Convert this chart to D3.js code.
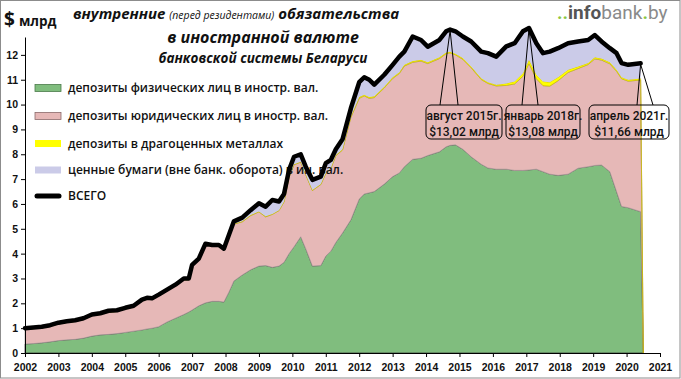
<!DOCTYPE html>
<html><head><meta charset="utf-8">
<script src="https://cdn.jsdelivr.net/npm/d3@7"></script>
<style>
html,body{margin:0;padding:0;background:#fff;}
svg{display:block;}
</style></head><body>
<script>
// position on the chart's time axis (fraction of a year, as plotted)
const period = [2002.00,2002.25,2002.50,2002.75,2003.00,2003.25,2003.50,2003.75,2004.00,2004.25,2004.50,2004.75,
 2005.00,2005.25,2005.50,2005.65,2005.80,2006.00,2006.25,2006.50,2006.75,2006.90,2007.00,2007.20,2007.40,2007.60,
 2007.80,2007.95,2008.10,2008.25,2008.50,2008.75,2009.00,2009.20,2009.40,2009.60,2009.75,2009.90,2010.05,2010.25,
 2010.40,2010.60,2010.85,2011.00,2011.15,2011.30,2011.50,2011.75,2012.00,2012.15,2012.30,2012.45,2012.75,2013.00,
 2013.20,2013.35,2013.60,2013.85,2014.05,2014.40,2014.60,2014.72,2014.88,2015.10,2015.35,2015.65,2015.85,2016.10,
 2016.40,2016.65,2016.90,2017.08,2017.30,2017.50,2017.70,2017.95,2018.25,2018.55,2018.85,2019.05,2019.25,2019.50,
 2019.70,2019.85,2020.05,2020.42,2020.50];
// депозиты физических лиц
const physical = [0.36,0.38,0.41,0.45,0.50,0.53,0.55,0.60,0.68,0.73,0.75,0.78,
 0.83,0.88,0.93,0.97,1.00,1.06,1.25,1.40,1.55,1.65,1.73,1.90,2.02,2.08,
 2.08,2.05,2.45,2.90,3.14,3.35,3.50,3.52,3.45,3.50,3.65,4.00,4.28,4.68,
 4.20,3.50,3.52,3.90,4.10,4.45,4.83,5.36,6.20,6.40,6.45,6.50,6.80,7.10,
 7.25,7.50,7.80,7.84,7.95,8.10,8.30,8.36,8.38,8.20,7.90,7.60,7.45,7.40,
 7.40,7.35,7.35,7.37,7.40,7.30,7.20,7.15,7.20,7.44,7.50,7.55,7.57,7.30,
 6.50,5.90,5.85,5.69,0];
// депозиты юридических лиц
const legal = [0.59,0.60,0.60,0.62,0.67,0.70,0.72,0.75,0.82,0.82,0.90,0.89,
 0.94,0.97,1.17,1.20,1.15,1.24,1.25,1.30,1.40,1.30,1.77,1.85,2.33,2.22,
 2.22,2.10,2.25,2.29,2.14,2.18,2.18,1.96,2.13,2.23,2.43,3.08,3.30,3.00,
 2.98,3.04,3.26,3.32,3.32,3.49,3.34,4.12,4.05,3.95,3.80,3.78,3.87,3.95,
 4.00,4.05,3.90,3.91,3.70,3.75,3.75,3.72,3.62,3.62,3.58,3.41,3.40,3.35,
 3.37,3.48,3.79,4.28,3.64,3.46,3.54,3.81,4.09,4.01,4.11,4.29,4.22,4.34,
 4.84,5.14,5.09,5.30,0];
// депозиты в драгоценных металлах
const metals = [0,0,0,0,0,0,0,0,0,0,0,0,
 0,0,0,0,0,0,0,0,0,0,0,0,0,0,
 0,0,0,0.01,0.02,0.02,0.02,0.02,0.02,0.02,0.02,0.02,0.02,0.02,
 0.02,0.02,0.02,0.03,0.03,0.03,0.03,0.04,0.05,0.05,0.05,0.05,0.05,0.05,
 0.05,0.05,0.05,0.05,0.05,0.05,0.05,0.05,0.05,0.05,0.05,0.05,0.05,0.05,
 0.08,0.10,0.12,0.15,0.16,0.17,0.16,0.14,0.11,0.08,0.06,0.06,0.06,0.06,
 0.06,0.06,0.06,0.06,0];
// ценные бумаги (вне банк. оборота)
const securities = [0.05,0.05,0.05,0.05,0.05,0.05,0.05,0.05,0.05,0.05,0.05,0.05,
 0.05,0.05,0.05,0.05,0.05,0.05,0.05,0.05,0.05,0.05,0.05,0.05,0.05,0.05,
 0.05,0.05,0.05,0.10,0.15,0.20,0.33,0.39,0.56,0.35,0.30,0.27,0.30,0.30,
 0.30,0.41,0.30,0.39,0.32,0.23,0.40,0.33,0.60,0.70,0.70,0.47,0.48,0.50,
 0.63,0.53,0.99,0.80,0.63,0.70,0.85,0.89,0.90,0.87,1.01,1.07,1.17,1.13,
 1.49,1.54,1.69,1.28,1.27,1.14,1.23,1.17,1.07,1.01,0.93,0.90,0.69,0.57,
 0.67,0.57,0.60,0.61,0];

const yearTicks = d3.range(2002, 2022);
const valueTicks = d3.range(0, 13);

const seriesKeys = ["physical","legal","metals","securities"];
const seriesNames = ["депозиты физических лиц в иностр. вал.",
                     "депозиты юридических лиц в иностр. вал.",
                     "депозиты в драгоценных металлах",
                     "ценные бумаги (вне банк. оборота)  в ин. вал."];
const totalName = "ВСЕГО";
const fills = {physical:"#80bd7e", legal:"#e6b8b7", metals:"#ffff00", securities:"#cbcbe8"};
const strokes = {physical:"#3c3c3c", legal:"#a89a9a", metals:"#c9b400", securities:"none"};

const annotations = [
  {t:2014.72, lines:["август 2015г.","$13,02 млрд"], box:[426,76], legs:[440,458]},
  {t:2017.08, lines:["январь 2018г.","$13,08 млрд"], box:[506,74], legs:[522,538]},
  {t:2020.42, lines:["апрель  2021г.","$11,66 млрд"], box:[589,80], legs:[637,653]}
];

const table = period.map((t,i)=>({t, physical:physical[i], legal:legal[i], metals:metals[i], securities:securities[i]}));
table.forEach(d=>{ d.total = d.physical + d.legal + d.metals + d.securities; });

const W=681, H=379;
const svg = d3.select("body").append("svg").attr("width",W).attr("height",H)
  .style("font-family","Roboto, 'Liberation Sans', sans-serif");

svg.append("rect").attr("x",0.5).attr("y",0.5).attr("width",W-1.5).attr("height",H-1.5)
  .attr("fill","#fff").attr("stroke","#8c8c8c");

const x = d3.scaleLinear().domain([2002, 2021]).range([25, 660]);
const y = d3.scaleLinear().domain([0, 12.72]).range([353, 37]);

const stack = d3.stack().keys(seriesKeys);
const layers = stack(table);

const area = d3.area().x(d=>x(d.data.t)).y0(d=>y(d[0])).y1(d=>y(d[1]));
svg.append("g").selectAll("path").data(layers).join("path")
  .attr("d", area)
  .attr("fill", d=>fills[d.key])
  .attr("stroke", d=>strokes[d.key])
  .attr("stroke-width", d=>d.key==="physical"?0.8:0.7)
  .attr("stroke-linejoin","round");

// legend
const legendY = [88,116,143.5,170,196];
const lf = "'Open Sans', 'Noto Sans', sans-serif";
const lg = svg.append("g");
seriesKeys.forEach((k,i)=>{
  lg.append("rect").attr("x",35).attr("y",legendY[i]-3.5).attr("width",26).attr("height",7)
    .attr("fill",fills[k]).attr("stroke", k==="physical"?"#4a7a4a":(k==="legal"?"#8a6a6a":"none")).attr("stroke-width",0.8);
  lg.append("text").attr("x",68).attr("y",legendY[i]+4).text(seriesNames[i]).attr("font-family",lf)
    .attr("font-size","12px").attr("font-weight",600).attr("fill","#111");
});
lg.append("line").attr("x1",37).attr("x2",59).attr("y1",legendY[4]).attr("y2",legendY[4])
  .attr("stroke","#000").attr("stroke-width",5).attr("stroke-linecap","round");
lg.append("text").attr("x",68).attr("y",legendY[4]+4).text(totalName).attr("font-family",lf)
  .attr("font-size","12px").attr("font-weight",600).attr("fill","#111");

// total line
const line = d3.line().defined(d=>d.total>0).x(d=>x(d.t)).y(d=>y(d.total));
svg.append("path").datum(table).attr("d",line).attr("fill","none")
  .attr("stroke","#000").attr("stroke-width",4.5).attr("stroke-linejoin","round").attr("stroke-linecap","round");

// axes
const xAxis = d3.axisBottom(x).tickValues(yearTicks).tickFormat(d3.format("d")).tickSizeInner(4).tickSizeOuter(0).tickPadding(7);
const gx = svg.append("g").attr("transform","translate(0,353)").call(xAxis);
gx.selectAll("text").attr("font-size","10.5px").attr("font-weight",700).attr("fill","#111")
  .attr("font-family","'Liberation Sans', Arial, sans-serif");
gx.select(".domain").attr("stroke","#000");
gx.selectAll(".tick line").attr("stroke","#000");

const yAxis = d3.axisLeft(y).tickValues(valueTicks).tickSizeInner(4).tickSizeOuter(0).tickPadding(3);
const gy = svg.append("g").attr("transform","translate(25,0)").call(yAxis);
gy.selectAll("text").attr("font-size","10.5px").attr("font-weight",700).attr("fill","#111")
  .attr("font-family","'Liberation Sans', Arial, sans-serif");
gy.select(".domain").attr("stroke","#000");
gy.selectAll(".tick line").attr("stroke","#000");

// annotations
const byT = new Map(table.map(d=>[d.t,d]));
annotations.forEach(a=>{
  const d = byT.get(a.t);
  const ax = x(d.t), ay = y(d.total)+1;
  const g = svg.append("g");
  g.append("path").attr("d",`M${a.legs[0]},105 L${ax},${ay} L${a.legs[1]},105`)
    .attr("fill","none").attr("stroke","#000").attr("stroke-width",1);
  g.append("rect").attr("x",a.box[0]).attr("y",105).attr("width",a.box[1]).attr("height",34)
    .attr("rx",5).attr("fill","none").attr("stroke","#000").attr("stroke-width",1);
  a.lines.forEach((s,i)=>{
    g.append("text").attr("x",a.box[0]+a.box[1]/2).attr("y",120+i*15.5).attr("text-anchor","middle")
      .attr("font-size","12px").attr("font-weight",500).attr("fill","#111").text(s);
  });
});

// titles
const tf = "'Open Sans', 'Noto Sans', sans-serif";
const t1 = svg.append("text").attr("x",73).attr("y",19).attr("font-family",tf).attr("font-style","italic").attr("fill","#111");
t1.append("tspan").attr("font-size","15px").attr("font-weight",700).text("внутренние ");
t1.append("tspan").attr("font-size","10.5px").attr("font-weight",400).text("(перед резидентами)");
t1.append("tspan").attr("font-size","15px").attr("font-weight",700).text(" обязательства");
svg.append("text").attr("x",263).attr("y",43).attr("text-anchor","middle").attr("font-family",tf)
  .attr("font-style","italic").attr("font-weight",700).attr("font-size","16px").attr("fill","#111").text("в иностранной валюте");
svg.append("text").attr("x",263).attr("y",63).attr("text-anchor","middle").attr("font-family",tf)
  .attr("font-style","italic").attr("font-weight",700).attr("font-size","13.5px").attr("fill","#111").text("банковской системы Беларуси");

const u = svg.append("text").attr("x",4).attr("y",26).attr("fill","#111").attr("font-family","'Open Sans', sans-serif").attr("font-weight",700);
u.append("tspan").attr("font-size","19px").text("$");
u.append("tspan").attr("font-size","13.5px").attr("dx",4).text("млрд");

// logo
svg.append("rect").attr("x",554).attr("y",1).attr("width",125).attr("height",21).attr("fill","#fff");
const logo = svg.append("text").attr("x",557).attr("y",19).attr("font-family","Roboto, sans-serif").attr("font-size","19px");
logo.append("tspan").attr("fill","#8dc63f").attr("font-weight",700).text("..");
logo.append("tspan").attr("fill","#555").attr("font-weight",700).text("info");
logo.append("tspan").attr("fill","#8a8a8a").attr("font-weight",400).text("bank");
logo.append("tspan").attr("fill","#8dc63f").attr("font-weight",700).text(".");
logo.append("tspan").attr("fill","#8a8a8a").attr("font-weight",400).text("by");
</script>
</body></html>
